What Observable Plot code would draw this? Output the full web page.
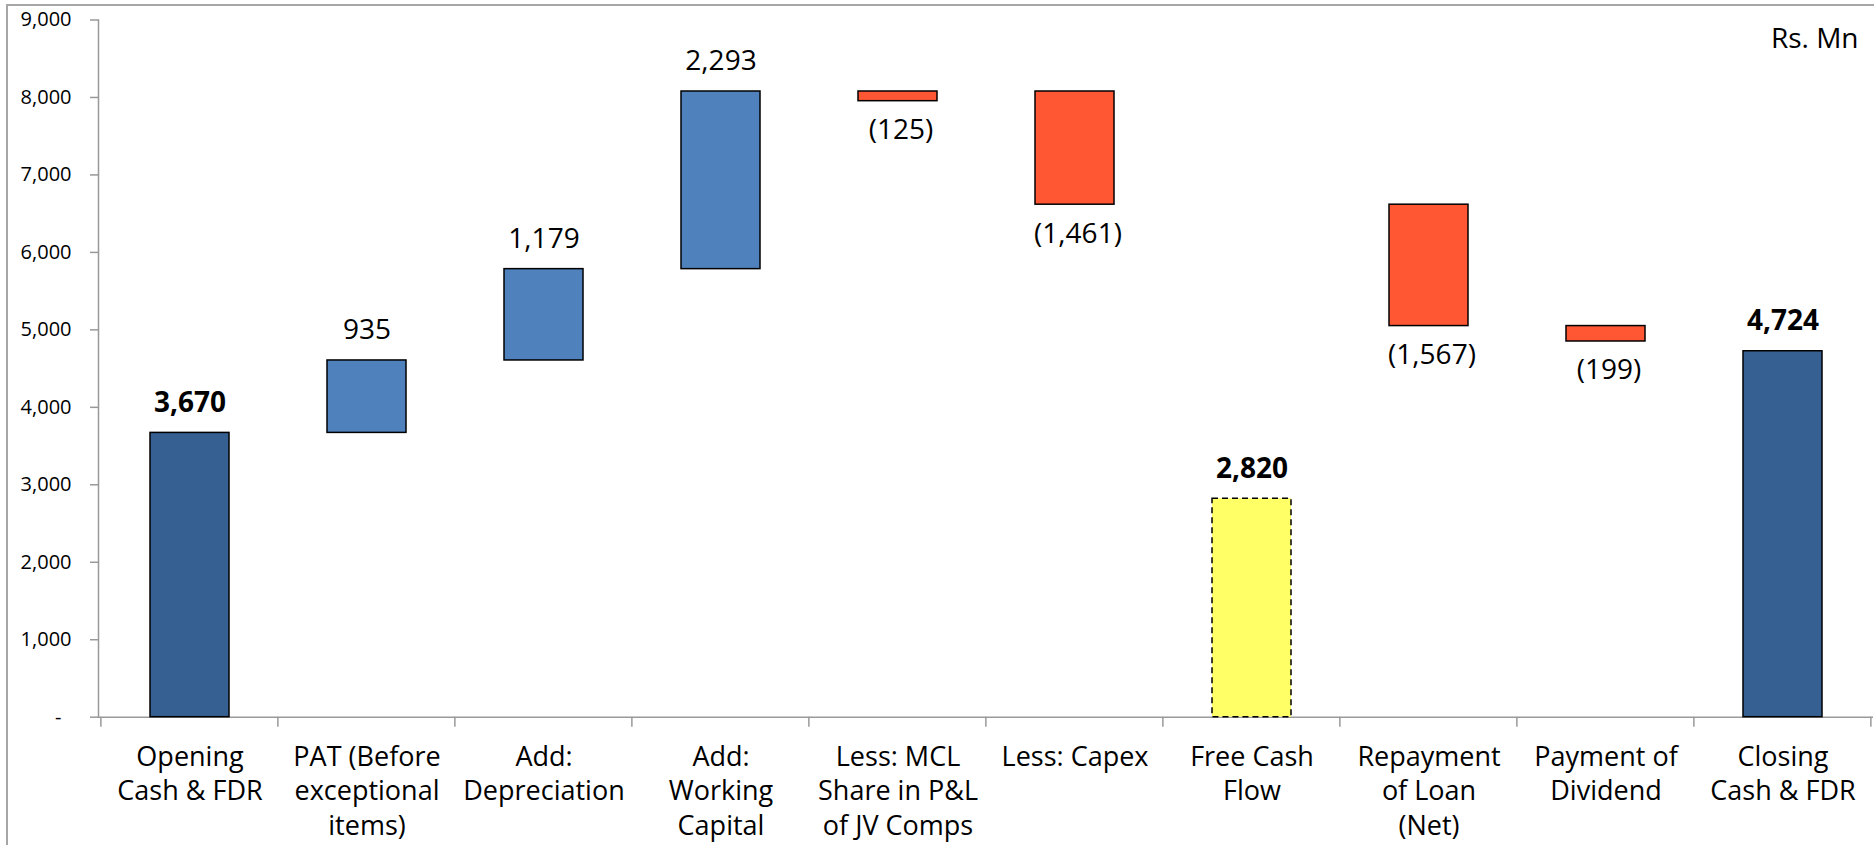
<!DOCTYPE html>
<html><head><meta charset="utf-8">
<script src="https://cdn.jsdelivr.net/npm/d3@7"></script>
<script src="https://cdn.jsdelivr.net/npm/@observablehq/plot@0.6"></script>
<style>
html,body{margin:0;padding:0;background:#fff;}
#wrap{position:relative;width:1874px;height:845px;overflow:hidden;}
#border{position:absolute;left:6px;top:4px;right:-10px;bottom:-10px;border-left:2px solid #a6a6a6;border-top:2px solid #a6a6a6;pointer-events:none;}
#wrap svg{position:absolute;left:0;top:0;}
</style></head><body><div id="wrap"><div id="border"></div></div>
<script>
// ---- data ----
const categories = [
  "Opening\nCash & FDR",
  "PAT (Before\nexceptional\nitems)",
  "Add:\nDepreciation",
  "Add:\nWorking\nCapital",
  "Less: MCL\nShare in P&L\nof JV Comps",
  "Less: Capex",
  "Free Cash\nFlow",
  "Repayment\nof Loan\n(Net)",
  "Payment of\nDividend",
  "Closing\nCash & FDR"
];
const values  = [3670, 935, 1179, 2293, -125, -1461, 2820, -1567, -199, 4724];
const barLow  = [0, 3670, 4605, 5784, 7952, 6616, 0, 5049, 4850, 0];
const barHigh = [3670, 4605, 5784, 8077, 8077, 8077, 2820, 6616, 5049, 4724];
const kinds   = ["total", "up", "up", "up", "down", "down", "sub", "down", "down", "total"];
const yTicks  = [0, 1000, 2000, 3000, 4000, 5000, 6000, 7000, 8000, 9000];
const unitLabel = "Rs. Mn";

const rows = categories.map((c, i) => ({cat: c, value: values[i], low: barLow[i], high: barHigh[i], kind: kinds[i]}));
const colors = {total: "#376092", up: "#4F81BD", down: "#FF5733", sub: "#FFFF66"};
const fmt = d3.format(",");
const labelOf = d => d.value < 0 ? "(" + fmt(-d.value) + ")" : fmt(d.value);
const PAD_IN = 0.555;

const dividerTicks = (index, scales, values, dims) => {
  const x = scales.x, y = scales.y;
  const step = x(categories[1]) - x(categories[0]);
  const bw = step * (1 - PAD_IN);
  const y0 = y(0);
  const g = d3.create("svg:g");
  for (let i = 0; i <= categories.length; i++) {
    const xb = i < categories.length ? x(categories[i]) - (step - bw) / 2 : x(categories[i - 1]) + bw + (step - bw) / 2;
    g.append("line").attr("x1", xb).attr("x2", xb).attr("y1", y0).attr("y2", y0 + 10)
      .attr("stroke", "#999").attr("stroke-width", 1.5);
  }
  return g.node();
};

const font = "'Open Sans', sans-serif";
const chart = Plot.plot({
  width: 1874,
  height: 845,
  marginLeft: 98,
  marginRight: 1,
  marginTop: 19.5,
  marginBottom: 128.3,
  style: {fontFamily: font, background: "transparent", overflow: "visible"},
  x: {domain: categories, paddingInner: PAD_IN, paddingOuter: PAD_IN / 2, axis: null},
  y: {domain: [0, 9000], axis: null},
  marks: [
    Plot.axisY({ticks: yTicks, tickSize: 8, tickPadding: 19, fontSize: 20, stroke: "#999", strokeWidth: 1.5,
      tickFormat: d => d === 0 ? "-\u2002" : fmt(d), fill: "#000"}),
    Plot.frame({anchor: "left", stroke: "#999", strokeWidth: 1.5}),
    Plot.ruleY([0], {stroke: "#999", strokeWidth: 1.5}),
    dividerTicks,
    Plot.barY(rows.filter(d => d.kind !== "sub"), {x: "cat", y1: "low", y2: "high", fill: d => colors[d.kind], stroke: "#000", strokeWidth: 1.5}),
    Plot.barY(rows.filter(d => d.kind === "sub"), {x: "cat", y1: "low", y2: "high", fill: d => colors[d.kind], stroke: "#000", strokeWidth: 1.5, strokeDasharray: "6,4"}),
    Plot.text(rows.filter(d => d.value >= 0 && d.kind === "up"), {x: "cat", y: "high", text: labelOf, fontSize: 28, lineAnchor: "top", dy: -41, fill: "#000"}),
    Plot.text(rows.filter(d => d.value >= 0 && d.kind !== "up"), {x: "cat", y: "high", text: labelOf, fontSize: 28, fontWeight: "bold", lineAnchor: "top", dy: -41, fill: "#000"}),
    Plot.text(rows.filter(d => d.value < 0), {x: "cat", y: "low", text: labelOf, fontSize: 28, lineAnchor: "top", dy: 18, dx: 3, fill: "#000"}),
    Plot.text(categories, {x: d => d, frameAnchor: "bottom", text: d => d, fontSize: 27, lineAnchor: "top", lineHeight: 1.28, dy: 24, fill: "#000"}),
    Plot.text([unitLabel], {frameAnchor: "top-right", text: d => d, fontSize: 28, textAnchor: "end", lineAnchor: "top", dx: -15, dy: 8, fill: "#000"})
  ]
});
document.getElementById("wrap").prepend(chart);
</script>
</body></html>
